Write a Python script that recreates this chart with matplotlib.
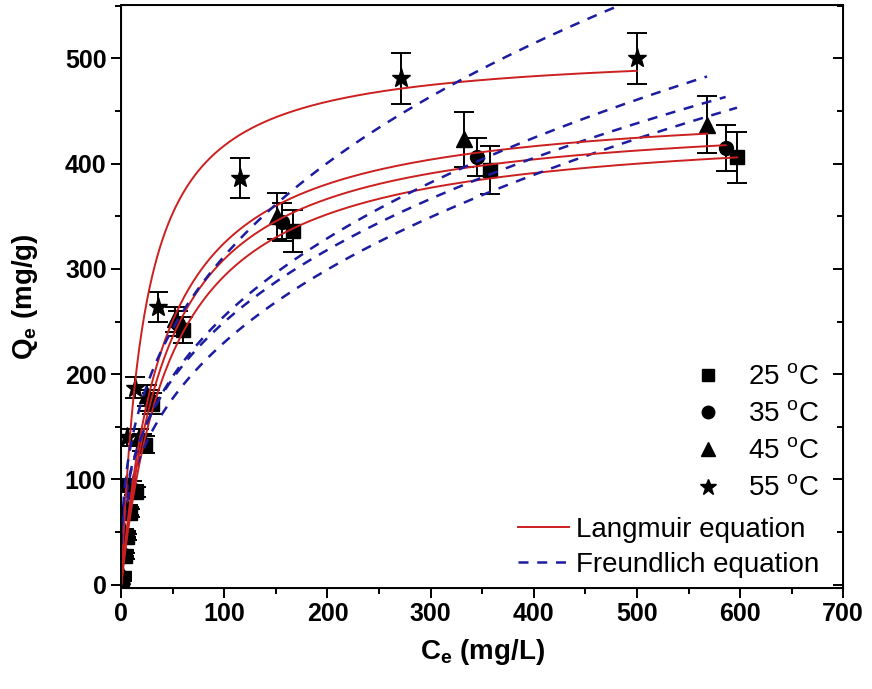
import numpy as np
import matplotlib
matplotlib.use('Agg')
import matplotlib.pyplot as plt
from matplotlib.lines import Line2D
from matplotlib.ticker import MultipleLocator

plt.rcParams['font.family'] = ['Liberation Sans', 'DejaVu Sans']
plt.rcParams['mathtext.fontset'] = 'custom'
plt.rcParams['mathtext.rm'] = 'Liberation Sans'
plt.rcParams['mathtext.bf'] = 'Liberation Sans:bold'

# measured data (Ce in mg/L, Qe in mg/g, error bars)
temps = ['25', '35', '45', '55']
ce_25 = [1, 4, 6, 9, 14, 23, 30, 60, 167, 358, 597]
qe_25 = [5, 27, 45, 68, 88, 133, 172, 242, 336, 394, 406]
er_25 = [2, 3, 3, 4, 5, 8, 10, 12, 20, 23, 24]
ce_35 = [1, 3, 5, 8, 12, 20, 28, 55, 156, 345, 586]
qe_35 = [7, 28, 47, 70, 90, 135, 175, 248, 345, 406, 415]
er_35 = [2, 3, 3, 4, 5, 8, 10, 12, 18, 18, 22]
ce_45 = [1, 3, 5, 7, 10, 17, 25, 52, 151, 332, 568]
qe_45 = [8, 30, 48, 72, 93, 140, 180, 252, 350, 423, 437]
er_45 = [2, 3, 3, 4, 5, 8, 10, 12, 22, 26, 27]
ce_55 = [0.5, 1.5, 3, 4, 5, 6, 13.6, 36, 115, 271, 500]
qe_55 = [10, 30, 50, 72, 95, 140, 187, 264, 386, 481, 500]
er_55 = [2, 3, 3, 4, 5, 8, 10, 14, 19, 24, 24]

# fitted model parameters
lang_qm = [440, 450, 460, 510]
lang_K = [0.020, 0.022, 0.024, 0.045]
freu_Kf = [40.2, 49.8, 47.1, 59.5]
freu_n_inv = [0.379, 0.350, 0.367, 0.360]

ces = [ce_25, ce_35, ce_45, ce_55]
qes = [qe_25, qe_35, qe_45, qe_55]
ers = [er_25, er_35, er_45, er_55]
markers = ['s', 'o', '^', '*']
msizes = [10, 10, 11, 14]

red = '#cc1f1f'
blue = '#1c1ca0'
dash = (0, (4, 3.5))

fig = plt.figure(figsize=(8.72, 6.89), dpi=100)
ax = fig.add_axes([0.139, 0.147, 0.828, 0.846])

for c, q, e, m, ms in zip(ces, qes, ers, markers, msizes):
    ax.errorbar(c, q, yerr=e, fmt=m, color='black', ms=ms, capsize=7,
                elinewidth=1.4, capthick=1.4, zorder=3)

for c, qm, K, kf, ni in zip(ces, lang_qm, lang_K, freu_Kf, freu_n_inv):
    cc = np.linspace(0, max(c), 400)
    ax.plot(cc, qm * K * cc / (1 + K * cc), color=red, lw=1.4, zorder=4)
    cf = np.linspace(0.3, max(c), 400)
    ax.plot(cf, kf * cf ** ni, color=blue, lw=1.8, ls=dash, zorder=4)

ax.set_xlim(0, 700)
ax.set_ylim(-3, 551)
ax.xaxis.set_major_locator(MultipleLocator(100))
ax.xaxis.set_minor_locator(MultipleLocator(50))
ax.yaxis.set_major_locator(MultipleLocator(100))
ax.yaxis.set_minor_locator(MultipleLocator(50))
ax.tick_params(which='both', direction='out', width=1.4, labelsize=18)
ax.tick_params(which='major', length=7)
ax.tick_params(which='minor', length=4)
for lab in ax.get_xticklabels() + ax.get_yticklabels():
    lab.set_fontweight('bold')
for s in ax.spines.values():
    s.set_linewidth(1.4)

# inward ticks on the right spine
ax_r = ax.twinx()
ax_r.set_ylim(ax.get_ylim())
ax_r.yaxis.set_major_locator(MultipleLocator(100))
ax_r.yaxis.set_minor_locator(MultipleLocator(50))
ax_r.tick_params(which='both', direction='in', width=1.4, labelright=False)
ax_r.tick_params(which='major', length=7)
ax_r.tick_params(which='minor', length=4)

ax.set_xlabel(r'C$_{\mathbf{e}}$ (mg/L)', fontsize=20, fontweight='bold')
ax.set_ylabel(r'Q$_{\mathbf{e}}$ (mg/g)', fontsize=20, fontweight='bold')
ax.xaxis.set_label_coords(0.5, -0.085)
ax.yaxis.set_label_coords(-0.112, 0.5)

mk_handles = [Line2D([], [], ls='none', marker=m, color='black', ms=ms)
              for m, ms in zip(markers, [9, 9, 10, 12])]
mk_labels = [t + r' $^{\mathrm{o}}$C' for t in temps]
leg1 = ax_r.legend(mk_handles, mk_labels, loc='upper left', frameon=False,
                   fontsize=20, bbox_to_anchor=(680 / 872, 1 - 351 / 689),
                   bbox_transform=fig.transFigure, borderpad=0,
                   handlelength=1.0, handletextpad=0.94, labelspacing=0.4)
ax_r.add_artist(leg1)
ln_handles = [Line2D([], [], color=red, lw=1.4),
              Line2D([], [], color=blue, lw=1.8, ls=dash)]
ax_r.legend(ln_handles, ['Langmuir equation', 'Freundlich equation'],
            loc='upper left', frameon=False, fontsize=20,
            bbox_to_anchor=(504 / 872, 1 - 503 / 689),
            bbox_transform=fig.transFigure, borderpad=0,
            handlelength=1.84, handletextpad=0.25, labelspacing=0.33)

fig.savefig('out.png', dpi=100)
